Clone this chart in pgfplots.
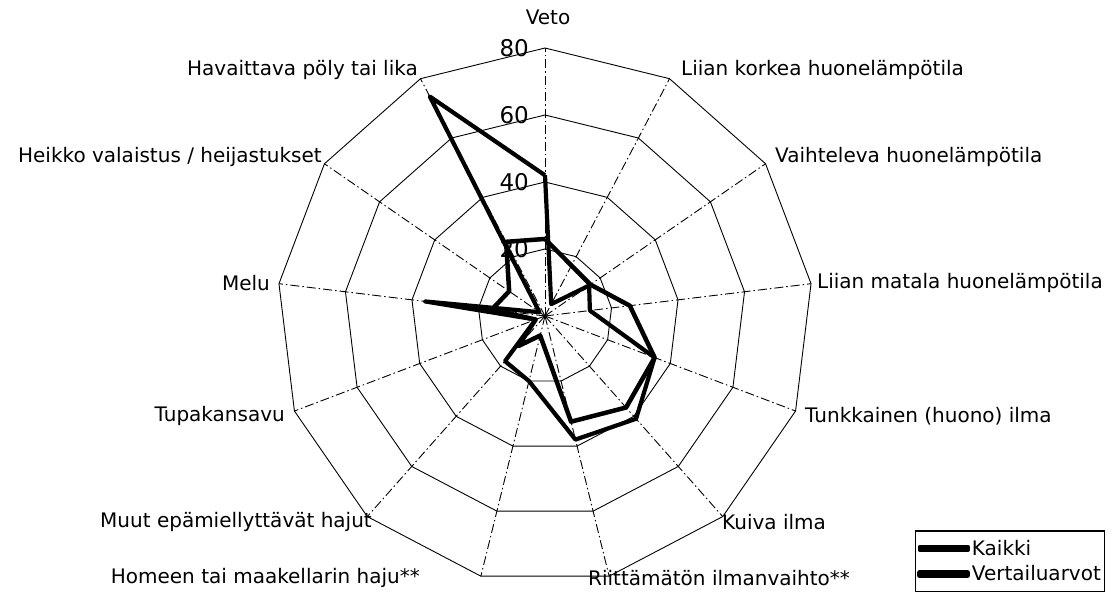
\documentclass[border=0pt]{standalone}
\usepackage{fontspec}
\setmainfont{DejaVu Sans}
\usepackage{pgfplots}
\pgfplotsset{compat=1.18}
\usepgfplotslibrary{polar}

\begin{document}
\begin{tikzpicture}[x=1pt,y=1pt]
\path[use as bounding box] (0,0) rectangle (1114,609);
\begin{polaraxis}[
  at={(545pt,293pt)}, anchor=origin,
  scale only axis, width=536pt, height=536pt,
  xmin=0, xmax=360, ymin=0, ymax=80,
  hide axis, clip=false,
  legend style={at={(1.190,-0.015)}, anchor=south west, draw=black, very thick,
    font=\fontsize{20}{24}\selectfont, inner xsep=2pt, inner ysep=7pt, row sep=5pt,
    legend cell align=left},
  legend image code/.code={\fill[black] (0pt,-1.5pt) rectangle (48pt,1.5pt);},
  spoke/.style={black, line width=0.9pt, dash pattern=on 9pt off 3pt on 1.5pt off 3pt, forget plot},
  ring/.style={black, line width=0.9pt, forget plot},
]
% spokes
\addplot[spoke] coordinates {(90,0) (90,80)};
\addplot[spoke] coordinates {(62.3077,0) (62.3077,80)};
\addplot[spoke] coordinates {(34.6154,0) (34.6154,80)};
\addplot[spoke] coordinates {(6.9231,0) (6.9231,80)};
\addplot[spoke] coordinates {(339.2308,0) (339.2308,80)};
\addplot[spoke] coordinates {(311.5385,0) (311.5385,80)};
\addplot[spoke] coordinates {(283.8462,0) (283.8462,80)};
\addplot[spoke] coordinates {(256.1538,0) (256.1538,80)};
\addplot[spoke] coordinates {(228.4615,0) (228.4615,80)};
\addplot[spoke] coordinates {(200.7692,0) (200.7692,80)};
\addplot[spoke] coordinates {(173.0769,0) (173.0769,80)};
\addplot[spoke] coordinates {(145.3846,0) (145.3846,80)};
\addplot[spoke] coordinates {(117.6923,0) (117.6923,80)};
% rings
\addplot[ring] coordinates {(90,20) (62.3077,20) (34.6154,20) (6.9231,20) (339.2308,20) (311.5385,20) (283.8462,20) (256.1538,20) (228.4615,20) (200.7692,20) (173.0769,20) (145.3846,20) (117.6923,20) (90,20)};
\addplot[ring] coordinates {(90,40) (62.3077,40) (34.6154,40) (6.9231,40) (339.2308,40) (311.5385,40) (283.8462,40) (256.1538,40) (228.4615,40) (200.7692,40) (173.0769,40) (145.3846,40) (117.6923,40) (90,40)};
\addplot[ring] coordinates {(90,60) (62.3077,60) (34.6154,60) (6.9231,60) (339.2308,60) (311.5385,60) (283.8462,60) (256.1538,60) (228.4615,60) (200.7692,60) (173.0769,60) (145.3846,60) (117.6923,60) (90,60)};
\addplot[ring] coordinates {(90,80) (62.3077,80) (34.6154,80) (6.9231,80) (339.2308,80) (311.5385,80) (283.8462,80) (256.1538,80) (228.4615,80) (200.7692,80) (173.0769,80) (145.3846,80) (117.6923,80) (90,80)};
% radial tick labels
\node[anchor=east, font=\fontsize{23}{26}\selectfont, inner sep=0pt, xshift=-16pt] at (axis cs:90,20) {20};
\node[anchor=east, font=\fontsize{23}{26}\selectfont, inner sep=0pt, xshift=-16pt] at (axis cs:90,40) {40};
\node[anchor=east, font=\fontsize{23}{26}\selectfont, inner sep=0pt, xshift=-16pt] at (axis cs:90,60) {60};
\node[anchor=east, font=\fontsize{23}{26}\selectfont, inner sep=0pt, xshift=-16pt] at (axis cs:90,80) {80};
% data
\addplot[black, line width=4.2pt, line join=round] coordinates {
  (90,42) (62.3077,4) (34.6154,16) (6.9231,13.5) (339.2308,35) (311.5385,41)
  (283.8462,38) (256.1538,20) (228.4615,18) (200.7692,3) (173.0769,36)
  (145.3846,2) (117.6923,74) (90,42)};
\addlegendentry{Kaikki}
\addplot[black, line width=4.5pt, line join=round] coordinates {
  (90,23) (62.3077,17) (34.6154,16.5) (6.9231,25.5) (339.2308,35) (311.5385,36.5)
  (283.8462,32.5) (256.1538,6) (228.4615,12) (200.7692,3) (173.0769,16)
  (145.3846,13) (117.6923,25) (90,23)};
\addlegendentry{Vertailuarvot}
\end{polaraxis}
\begin{scope}[every node/.style={font=\fontsize{20}{24}\selectfont, inner sep=0pt}]
\node[anchor=center] at (548,592) {Veto};
\node[anchor=west] at (681,539) {Liian korkea huonelämpötila};
\node[anchor=west] at (775,452) {Vaihteleva huonelämpötila};
\node[anchor=west] at (817,326) {Liian matala huonelämpötila};
\node[anchor=west] at (805,193) {Tunkkainen (huono) ilma};
\node[anchor=west] at (722,87) {Kuiva ilma};
\node[anchor=west] at (588,31) {Riittämätön ilmanvaihto**};
\node[anchor=east] at (420,31) {Homeen tai maakellarin haju**};
\node[anchor=east] at (372,87) {Muut epämiellyttävät hajut};
\node[anchor=east] at (285,193) {Tupakansavu};
\node[anchor=east] at (270,326) {Melu};
\node[anchor=east] at (322,452) {Heikko valaistus / heijastukset};
\node[anchor=east] at (418,539) {Havaittava pöly tai lika};
\end{scope}
\end{tikzpicture}
\end{document}
